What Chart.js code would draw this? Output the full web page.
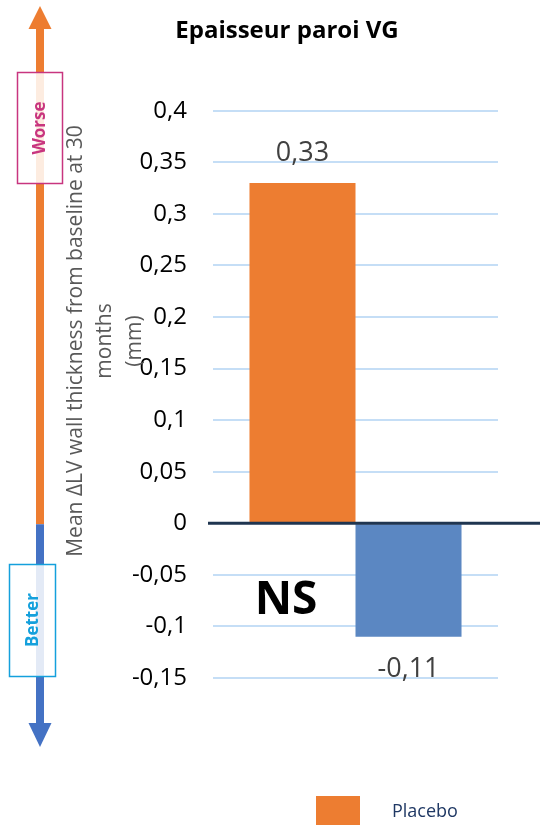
<!DOCTYPE html>
<html>
<head>
<meta charset="utf-8">
<style>
  html, body { margin: 0; padding: 0; background: #ffffff; }
  canvas { display: block; }
</style>
<script src="https://cdn.jsdelivr.net/npm/chart.js@4.4.1/dist/chart.umd.min.js"></script>
</head>
<body>
<canvas id="chart" width="540" height="825"></canvas>
<script>
// Chart data
const categories = ['30 mois'];
const seriesNames = ['Placebo', 'Traitement'];
const placeboValues = [0.33];
const treatmentValues = [-0.11];
const yMin = -0.15;
const yMax = 0.4;
const yStep = 0.05;
const chartTitle = 'Epaisseur paroi VG';
const axisTitleLines = ['Mean \u0394LV wall thickness from baseline at 30', 'months', '(mm)'];

const ORANGE = '#ED7D31';
const BLUE = '#5B87C2';
const FONT = '"Open Sans", "Noto Sans", sans-serif';

// French decimal formatting: 0.35 -> "0,35"
function frNumber(v) {
  const r = Math.round(v * 100) / 100;
  return String(r === 0 ? 0 : r).replace('.', ',');
}

// Zero axis line drawn across and beyond the plot area
const zeroLine = {
  id: 'zeroLine',
  afterDatasetsDraw(chart) {
    const ctx = chart.ctx;
    const y = chart.scales.y.getPixelForValue(0);
    ctx.save();
    ctx.strokeStyle = '#1F3550';
    ctx.lineWidth = 3;
    ctx.beginPath();
    ctx.moveTo(chart.chartArea.left - 5, y);
    ctx.lineTo(chart.width, y);
    ctx.stroke();
    ctx.restore();
  }
};

// Value labels above / below each bar
const valueLabels = {
  id: 'valueLabels',
  afterDatasetsDraw(chart) {
    const ctx = chart.ctx;
    ctx.save();
    ctx.font = '27px ' + FONT;
    ctx.fillStyle = '#404040';
    ctx.textAlign = 'center';
    ctx.textBaseline = 'middle';
    chart.data.datasets.forEach((ds, di) => {
      const meta = chart.getDatasetMeta(di);
      meta.data.forEach((bar, i) => {
        const v = ds.data[i];
        const y = v >= 0 ? bar.y - 30 : bar.y + 33;
        ctx.fillText(frNumber(v), bar.x, y);
      });
    });
    ctx.restore();
  }
};

// Side arrow with Worse / Better boxes, rotated axis title, NS note and legend
const decorations = {
  id: 'decorations',
  afterDraw(chart) {
    const ctx = chart.ctx;
    const ys = chart.scales.y;
    const y0 = ys.getPixelForValue(0);
    const ax = 40;

    ctx.save();
    // arrow shaft
    ctx.lineWidth = 8;
    ctx.strokeStyle = ORANGE;
    ctx.beginPath(); ctx.moveTo(ax, 28); ctx.lineTo(ax, y0 + 1); ctx.stroke();
    ctx.strokeStyle = '#4472C4';
    ctx.beginPath(); ctx.moveTo(ax, y0 + 1); ctx.lineTo(ax, 724); ctx.stroke();
    // arrow heads
    ctx.fillStyle = ORANGE;
    ctx.beginPath(); ctx.moveTo(ax, 6); ctx.lineTo(ax + 11.5, 29); ctx.lineTo(ax - 11.5, 29); ctx.closePath(); ctx.fill();
    ctx.fillStyle = '#4472C4';
    ctx.beginPath(); ctx.moveTo(ax, 747); ctx.lineTo(ax + 11.5, 723); ctx.lineTo(ax - 11.5, 723); ctx.closePath(); ctx.fill();

    // Worse box
    ctx.fillStyle = 'rgba(255,255,255,0.85)';
    ctx.fillRect(17, 72, 46, 112);
    ctx.strokeStyle = '#C8357F';
    ctx.lineWidth = 1.5;
    ctx.strokeRect(17.5, 72.5, 45, 111);
    // Better box
    ctx.fillStyle = 'rgba(255,255,255,0.85)';
    ctx.fillRect(9, 564, 47, 113);
    ctx.strokeStyle = '#14A0DC';
    ctx.strokeRect(9.5, 564.5, 46, 112);

    ctx.font = 'bold 17px ' + FONT;
    ctx.textAlign = 'center';
    ctx.textBaseline = 'middle';
    ctx.save();
    ctx.translate(40, 128); ctx.rotate(-Math.PI / 2);
    ctx.fillStyle = '#C8357F';
    ctx.fillText('Worse', 0, 0);
    ctx.restore();
    ctx.save();
    ctx.translate(33, 620); ctx.rotate(-Math.PI / 2);
    ctx.fillStyle = '#14A0DC';
    ctx.fillText('Better', 0, 0);
    ctx.restore();

    // rotated axis title (three lines)
    ctx.font = '21px ' + FONT;
    ctx.fillStyle = '#595959';
    const xs = [76, 105, 135];
    axisTitleLines.forEach((t, i) => {
      ctx.save();
      ctx.translate(xs[i], 341); ctx.rotate(-Math.PI / 2);
      ctx.fillText(t, 0, 0);
      ctx.restore();
    });

    // NS note
    ctx.font = 'bold 46px ' + FONT;
    ctx.fillStyle = '#000000';
    ctx.fillText('NS', chart.chartArea.left + 73, ys.getPixelForValue(-0.075));

    // legend (first series)
    const ds = chart.data.datasets[0];
    ctx.fillStyle = ds.backgroundColor;
    ctx.fillRect(316, 796, 44, 40);
    ctx.font = '18px ' + FONT;
    ctx.fillStyle = '#1F3864';
    ctx.textAlign = 'left';
    ctx.fillText(ds.label, 392, 812);
    ctx.restore();
  }
};

new Chart(document.getElementById('chart'), {
  type: 'bar',
  data: {
    labels: categories,
    datasets: [
      { label: seriesNames[0], data: placeboValues, backgroundColor: ORANGE, categoryPercentage: 0.744, barPercentage: 1.0 },
      { label: seriesNames[1], data: treatmentValues, backgroundColor: BLUE, categoryPercentage: 0.744, barPercentage: 1.0 }
    ]
  },
  options: {
    responsive: false,
    animation: false,
    layout: { padding: { left: 76, right: 42, top: 0, bottom: 147 } },
    plugins: {
      legend: { display: false },
      tooltip: { enabled: false },
      title: {
        display: true,
        text: chartTitle,
        color: '#000000',
        font: { family: FONT, size: 24, weight: 'bold' },
        padding: { top: 17, bottom: 65 }
      }
    },
    scales: {
      x: { display: false },
      y: {
        min: yMin,
        max: yMax,
        afterFit(scale) { scale.width = 137; },
        border: { display: false },
        grid: {
          drawTicks: false,
          lineWidth: 2,
          color: '#C5DEF6'
        },
        ticks: {
          stepSize: yStep,
          padding: 26,
          color: '#000000',
          font: { family: FONT, size: 24 },
          callback: (v) => frNumber(v)
        }
      }
    }
  },
  plugins: [zeroLine, valueLabels, decorations]
});
</script>
</body>
</html>
